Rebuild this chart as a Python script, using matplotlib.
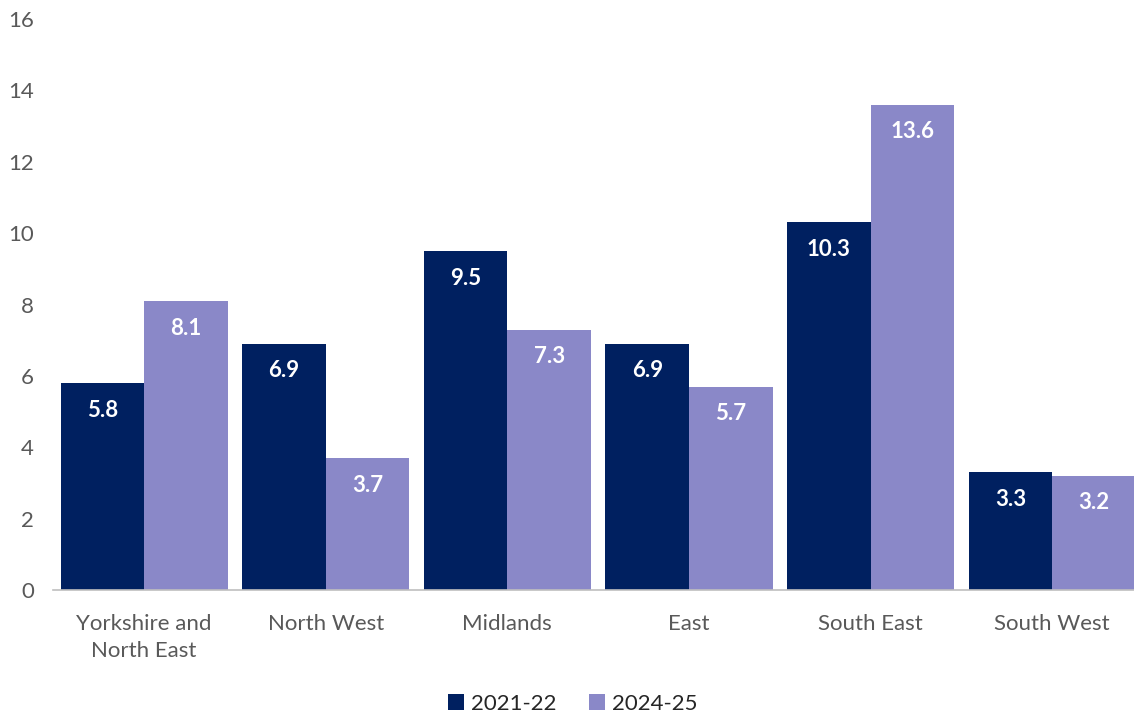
import numpy as np
import matplotlib.pyplot as plt

regions = ["Yorkshire and\nNorth East", "North West", "Midlands", "East", "South East", "South West"]
years = ["2021-22", "2024-25"]
vals_2122 = [5.8, 6.9, 9.5, 6.9, 10.3, 3.3]
vals_2425 = [8.1, 3.7, 7.3, 5.7, 13.6, 3.2]

colours = ["#002060", "#8A88C8"]

plt.rcParams['font.family'] = ['Lato', 'DejaVu Sans']

fig = plt.figure(figsize=(11.34, 7.17), dpi=100)
ax = fig.add_axes([0.047, 0.177, 0.961, 0.7964])

x = np.arange(len(regions))
w = 0.46
series = [vals_2122, vals_2425]
for i, (vals, col, lab) in enumerate(zip(series, colours, years)):
    pos = x + (i - 0.5) * w
    bars = ax.bar(pos, vals, width=w, color=col, label=lab, zorder=2)
    for b, v in zip(bars, vals):
        ax.annotate(f"{v:.1f}", (b.get_x() + b.get_width() / 2, v),
                    xytext=(0, -27), textcoords="offset pixels",
                    ha="center", va="center", color="white",
                    fontsize=16, fontweight="bold")

ax.set_xlim(-0.5, len(regions) - 0.5)
ax.set_ylim(0, 16)
ax.set_yticks(np.arange(0, 17, 2))
ax.set_xticks(x)
ax.set_xticklabels(regions, linespacing=1.45)
ax.tick_params(axis="both", length=0, labelsize=16, colors="#595959")
ax.tick_params(axis="x", pad=17)
ax.tick_params(axis="y", pad=14)
for s in ["top", "right", "left"]:
    ax.spines[s].set_visible(False)
ax.spines["bottom"].set_color("#BFBFBF")
ax.spines["bottom"].set_linewidth(1.2)

fig.legend(loc="center", bbox_to_anchor=(0.505, 1 - 704 / 717),
           ncol=2, frameon=False, fontsize=16, handlelength=0.7, handleheight=0.7,
           handletextpad=0.3, columnspacing=1.5, labelcolor="#262626")

fig.savefig("out.png", dpi=100)
